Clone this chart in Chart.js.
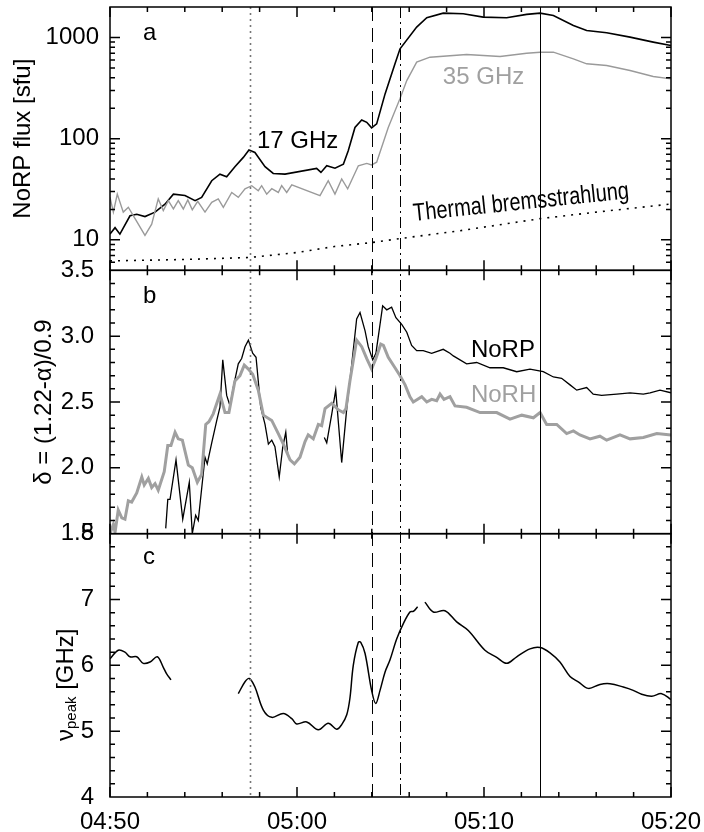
<!DOCTYPE html>
<html>
<head>
<meta charset="utf-8">
<script src="https://cdn.jsdelivr.net/npm/chart.js@4.4.1/dist/chart.umd.min.js"></script>
<style>
  html, body { margin: 0; padding: 0; background: #fff; }
  #wrap { width: 704px; height: 832px; }
</style>
</head>
<body>
<div id="wrap"><canvas id="chartCanvas" width="704" height="832"></canvas></div>
<script>
// times are minutes after 04:50 UT
const timeLabels = ['04:50', '05:00', '05:10', '05:20'];
const eventTimes = [7.5, 14.0, 15.5, 23.0];

// panel a: NoRP flux [sfu]
const t17 = [0, 0.27, 0.53, 1.07, 1.43, 1.87, 2.41, 2.94, 3.39, 4.01, 4.55, 4.9, 5.44, 5.88, 6.24, 6.68, 7.13, 7.43, 7.75, 8.29, 8.73, 9.36, 11.05, 11.28, 11.59, 12.03, 12.48, 12.74, 13.1, 13.46, 13.73, 13.99, 14.26, 14.71, 15.24, 15.51, 16.4, 16.94, 17.82, 18.89, 19.96, 21.21, 22.28, 23.0, 23.71, 24.78, 25.49, 26.56, 27.81, 29.05, 30];
const f17 = [11.4, 13.2, 11.4, 17.3, 17.9, 17.0, 18.8, 22.5, 28.3, 27.4, 24.4, 26.3, 38.4, 44.6, 42, 52.9, 65.3, 77.3, 73, 52.9, 45.3, 44.6, 50.9, 46.4, 54, 51, 56, 76, 129, 153, 145, 128, 140, 277, 550, 773, 1265, 1566, 1740, 1715, 1590, 1566, 1690, 1740, 1650, 1315, 1173, 1113, 1007, 900, 833];
const t35 = [0, 0.18, 0.39, 0.71, 0.98, 1.34, 1.87, 2.23, 2.58, 2.85, 3.12, 3.39, 3.65, 3.92, 4.16, 4.4, 4.69, 5.08, 5.44, 5.79, 6.06, 6.51, 6.86, 7.22, 7.58, 7.93, 8.11, 8.38, 8.65, 9.0, 9.18, 9.45, 9.72, 11.23, 11.67, 12.03, 12.39, 12.71, 13.28, 13.73, 13.99, 14.26, 14.88, 15.51, 15.87, 16.4, 17.11, 19.07, 20.86, 22.28, 23.0, 23.71, 24.78, 25.49, 26.56, 27.81, 29.05, 30];
const f35 = [26.3, 18.8, 28.3, 18.8, 21, 16.2, 11.1, 14.3, 25.4, 19.5, 24.4, 20.2, 24.4, 20.2, 24.8, 19.8, 24, 18.8, 23.5, 25.4, 21, 29.4, 26.3, 32, 34.3, 30.6, 34.3, 28.3, 32, 29.4, 34.3, 29.4, 35, 27.4, 38.4, 28.3, 40, 32, 54, 57, 55, 58.6, 129, 250, 375, 570, 638, 678, 648, 699, 715, 715, 615, 549, 528, 471, 411, 390];
const tThermal = [0, 4, 7.5, 10, 12, 14, 15.5, 18.7, 23, 26, 30];
const fThermal = [6.2, 6.4, 6.7, 7.5, 8.6, 9.4, 10.3, 12.3, 16.2, 18.8, 22.6];

// panel b: delta
const tNorp = [2.98, 3.09, 3.21, 3.53, 3.89, 4.24, 4.4, 4.58, 4.72, 5.08, 5.2, 5.44, 5.71, 5.88, 6.03, 6.24, 6.42, 6.59, 6.86, 7.04, 7.22, 7.4, 7.63, 7.81, 8.06, 8.29, 8.47, 8.65, 8.82, 9.05, 9.24, 9.4, 9.5, 10.5, 11.46, 11.59, 11.86, 12.07, 12.39, 12.66, 12.93, 13.19, 13.37, 13.64, 13.81, 14.05, 14.22, 14.44, 14.58, 14.8, 15.06, 15.29, 15.6, 15.87, 16.13, 16.4, 16.75, 17.2, 17.82, 18.18, 18.36, 19.07, 19.61, 20.32, 21.03, 21.75, 22.46, 23.17, 23.71, 24.15, 24.6, 24.96, 25.49, 25.84, 26.29, 27.1, 27.81, 28.52, 28.88, 29.41, 30];
const dNorp = [1.54, 1.76, 1.76, 2.06, 1.61, 1.89, 1.5, 1.64, 1.6, 2.08, 2.03, 2.19, 2.36, 2.46, 2.82, 2.55, 2.47, 2.61, 2.79, 2.83, 2.92, 2.97, 2.87, 2.84, 2.46, 2.33, 2.18, 2.21, 2.16, 1.93, 2.16, 2.27, 2.11, null, 2.23, 2.19, 2.41, 2.59, 2.04, 2.45, 2.79, 3.13, 3.18, 3.04, 2.92, 2.82, 2.87, 3.09, 3.23, 3.2, 3.22, 3.14, 3.09, 3.03, 2.93, 2.89, 2.89, 2.87, 2.9, 2.87, 2.85, 2.79, 2.8, 2.76, 2.76, 2.73, 2.75, 2.73, 2.69, 2.68, 2.63, 2.59, 2.61, 2.56, 2.55, 2.56, 2.57, 2.56, 2.57, 2.59, 2.57];
const tNorh = [0, 0.18, 0.27, 0.44, 0.63, 0.8, 0.98, 1.16, 1.43, 1.7, 1.83, 2.05, 2.23, 2.41, 2.58, 2.9, 3.09, 3.26, 3.48, 3.65, 3.87, 4.19, 4.4, 4.67, 4.9, 5.12, 5.29, 5.52, 5.88, 6.15, 6.36, 6.68, 6.95, 7.18, 7.4, 7.63, 7.93, 8.2, 8.65, 9.0, 9.27, 9.63, 9.86, 10.16, 10.43, 10.6, 10.87, 11.14, 11.32, 11.5, 11.86, 12.21, 12.48, 12.62, 12.83, 13.19, 13.46, 13.73, 13.99, 14.22, 14.48, 14.62, 14.88, 15.24, 15.51, 15.78, 16.04, 16.22, 16.67, 16.94, 17.2, 17.47, 17.65, 17.86, 18.18, 18.45, 19.07, 19.79, 20.68, 21.39, 22.02, 22.64, 23.0, 23.35, 23.89, 24.42, 24.78, 25.13, 25.67, 26.2, 26.56, 27.27, 27.81, 28.52, 29.24, 30];
const dNorh = [1.5, 1.57, 1.51, 1.68, 1.62, 1.61, 1.75, 1.74, 1.81, 1.93, 1.87, 1.92, 1.85, 1.88, 1.83, 1.97, 2.17, 2.17, 2.27, 2.22, 2.21, 2.02, 2.0, 1.89, 1.95, 2.33, 2.35, 2.41, 2.56, 2.42, 2.42, 2.66, 2.7, 2.78, 2.75, 2.71, 2.59, 2.4, 2.36, 2.26, 2.18, 2.06, 2.03, 2.08, 2.2, 2.25, 2.22, 2.33, 2.32, 2.45, 2.49, 2.44, 2.42, 2.45, 2.66, 2.97, 2.92, 2.83, 2.75, 2.83, 2.94, 2.93, 2.84, 2.76, 2.7, 2.63, 2.54, 2.5, 2.54, 2.5, 2.52, 2.51, 2.56, 2.52, 2.54, 2.47, 2.46, 2.42, 2.42, 2.37, 2.4, 2.38, 2.42, 2.33, 2.33, 2.26, 2.28, 2.25, 2.22, 2.24, 2.21, 2.25, 2.22, 2.23, 2.26, 2.25];

// panel c: peak frequency [GHz]
const tPeak = [0, 0.44, 0.8, 1.07, 1.43, 1.78, 2.14, 2.53, 2.85, 3.03, 3.26, 5, 6.86, 7.22, 7.45, 7.75, 8.2, 8.65, 9.27, 9.72, 9.98, 10.52, 11.14, 11.67, 12.12, 12.39, 12.66, 12.83, 13.01, 13.28, 13.41, 13.64, 13.99, 14.21, 14.44, 14.71, 14.97, 15.33, 15.68, 16.04, 16.22, 16.45, 16.6, 16.84, 17.29, 17.91, 18.54, 19.16, 20.05, 20.68, 21.21, 21.75, 22.46, 23.0, 23.53, 24.06, 24.6, 25.04, 25.58, 26.2, 26.74, 27.45, 27.98, 28.43, 28.97, 29.5, 30];
const fPeak = [6.1, 6.23, 6.2, 6.13, 6.13, 6.03, 6.05, 6.13, 5.97, 5.87, 5.78, null, 5.57, 5.75, 5.8, 5.67, 5.32, 5.21, 5.27, 5.19, 5.11, 5.14, 5.02, 5.12, 5.03, 5.1, 5.25, 5.5, 6.0, 6.35, 6.35, 6.18, 5.62, 5.42, 5.62, 5.9, 6.08, 6.4, 6.63, 6.81, 6.82, 6.89, null, 6.96, 6.81, 6.83, 6.66, 6.53, 6.23, 6.12, 6.03, 6.13, 6.25, 6.27, 6.19, 6.05, 5.83, 5.75, 5.65, 5.71, 5.72, 5.67, 5.62, 5.56, 5.53, 5.57, 5.48];

const FONT = '"Liberation Sans", Arial, Helvetica, sans-serif';
const pts = (t, v) => t.map((x, i) => ({ x: x, y: v[i] }));

const framePlugin = {
  id: 'frame',
  afterDatasetsDraw(chart) {
    const ctx = chart.ctx;
    const { left, right, top, bottom } = chart.chartArea;
    const x = chart.scales.x;
    const panels = [chart.scales.ya, chart.scales.yb, chart.scales.yc];
    ctx.save();

    // event lines
    const lineStyles = [
      { color: '#777', width: 1.6, dash: [2, 4] },
      { color: '#000', width: 1, dash: [14, 7] },
      { color: '#000', width: 1, dash: [11, 4, 2, 4] },
      { color: '#000', width: 1, dash: [] }
    ];
    eventTimes.forEach((t, i) => {
      const px = Math.round(x.getPixelForValue(t)) + 0.5;
      ctx.strokeStyle = lineStyles[i].color;
      ctx.lineWidth = lineStyles[i].width;
      ctx.setLineDash(lineStyles[i].dash);
      ctx.beginPath();
      ctx.moveTo(px, top);
      ctx.lineTo(px, bottom);
      ctx.stroke();
    });
    ctx.setLineDash([]);

    // frames and inward ticks
    ctx.strokeStyle = '#000';
    ctx.lineWidth = 1.5;
    panels.forEach((s) => {
      ctx.strokeRect(left, s.top, right - left, s.bottom - s.top);
      ctx.beginPath();
      for (let m = 0; m <= 30; m += 2) {
        const px = x.getPixelForValue(m);
        const len = m % 10 === 0 ? 10 : 5;
        ctx.moveTo(px, s.top); ctx.lineTo(px, s.top + len);
        ctx.moveTo(px, s.bottom); ctx.lineTo(px, s.bottom - len);
      }
      const yTick = (v, len) => {
        const py = s.getPixelForValue(v);
        ctx.moveTo(left, py); ctx.lineTo(left + len, py);
        ctx.moveTo(right, py); ctx.lineTo(right - len, py);
      };
      if (s.id === 'ya') {
        [1, 10, 100, 1000].forEach((d) => {
          for (let k = 1; k <= 9; k++) {
            const v = k * d;
            if (v > 5 && v < 2000) yTick(v, k === 1 ? 10 : 5);
          }
        });
      } else if (s.id === 'yb') {
        for (let i = 16; i < 35; i++) yTick(i / 10, i % 5 === 0 ? 10 : 5);
      } else {
        for (let i = 21; i < 40; i++) yTick(i / 5, i % 5 === 0 ? 10 : 5);
      }
      ctx.stroke();
    });

    // texts
    const ya = chart.scales.ya, yb = chart.scales.yb;
    ctx.fillStyle = '#000';
    ctx.font = '24px ' + FONT;
    ctx.textAlign = 'left';
    ctx.textBaseline = 'middle';
    ctx.fillText('a', left + 33, ya.top + 26);
    ctx.fillText('b', left + 33, yb.top + 26);
    ctx.fillText('c', left + 33, chart.scales.yc.top + 24);

    ctx.textBaseline = 'alphabetic';
    ctx.fillText('17 GHz', x.getPixelForValue(7.86), ya.getPixelForValue(80));
    ctx.fillText('NoRP', x.getPixelForValue(19.3), yb.getPixelForValue(2.84));
    ctx.fillStyle = '#a0a0a0';
    ctx.fillText('35 GHz', x.getPixelForValue(17.8), ya.getPixelForValue(350));
    ctx.fillText('NoRH', x.getPixelForValue(19.3), yb.getPixelForValue(2.5));

    ctx.fillStyle = '#000';
    ctx.save();
    ctx.translate(x.getPixelForValue(16.26), ya.getPixelForValue(15.4));
    ctx.rotate(-6 * Math.PI / 180);
    ctx.scale(0.8, 1);
    ctx.font = '25px ' + FONT;
    ctx.fillText('Thermal bremsstrahlung', 0, 0);
    ctx.restore();

    // axis titles
    ctx.font = '24px ' + FONT;
    ctx.textAlign = 'center';
    ctx.textBaseline = 'middle';
    const vTitle = (text, cx, cy) => {
      ctx.save();
      ctx.translate(cx, cy);
      ctx.rotate(-Math.PI / 2);
      ctx.fillText(text, 0, 0);
      ctx.restore();
    };
    vTitle('NoRP flux [sfu]', 23, (ya.top + ya.bottom) / 2);
    vTitle('δ = (1.22-α)/0.9', 44, (yb.top + yb.bottom) / 2);

    ctx.save();
    ctx.translate(66, chart.scales.yc.getPixelForValue(4.85));
    ctx.rotate(-Math.PI / 2);
    ctx.textAlign = 'left';
    ctx.font = '24px ' + FONT;
    ctx.fillText('ν', 0, 0);
    let w = ctx.measureText('ν').width;
    ctx.font = '15px ' + FONT;
    ctx.fillText('peak', w, 6);
    w += ctx.measureText('peak').width;
    ctx.font = '24px ' + FONT;
    ctx.fillText(' [GHz]', w, 0);
    ctx.restore();

    ctx.restore();
  }
};

const tickFont = { family: FONT, size: 24 };
const fixWidth = (s) => { s.width = 100; s.paddingTop = 0; s.paddingBottom = 0; };

const ctx = document.getElementById('chartCanvas').getContext('2d');
const chart = new Chart(ctx, {
  type: 'line',
  data: {
    datasets: [
      { data: pts(tThermal, fThermal), yAxisID: 'ya', borderColor: '#000', borderWidth: 1.6, borderDash: [2, 6] },
      { data: pts(t35, f35), yAxisID: 'ya', borderColor: '#9a9a9a', borderWidth: 1.4 },
      { data: pts(t17, f17), yAxisID: 'ya', borderColor: '#000', borderWidth: 1.6 },
      { data: pts(tNorh, dNorh), yAxisID: 'yb', borderColor: '#a0a0a0', borderWidth: 3 },
      { data: pts(tNorp, dNorp), yAxisID: 'yb', borderColor: '#000', borderWidth: 1.3 },
      { data: pts(tPeak, fPeak), yAxisID: 'yc', borderColor: '#000', borderWidth: 1.5, tension: 0.35 }
    ]
  },
  options: {
    responsive: false,
    animation: false,
    devicePixelRatio: 1,
    layout: { padding: { left: 10, right: 33, top: 7, bottom: 0 } },
    elements: { point: { radius: 0 }, line: { tension: 0, fill: false } },
    plugins: { legend: { display: false }, tooltip: { enabled: false } },
    scales: {
      x: {
        type: 'linear', min: 0, max: 30,
        grid: { display: false }, border: { display: false },
        afterFit: (s) => { s.height = 35; s.paddingLeft = 0; s.paddingRight = 0; },
        ticks: { stepSize: 10, padding: 3, maxRotation: 0, color: '#000', font: tickFont,
          callback: (v) => timeLabels[Math.round(v / 10)] }
      },
      yc: {
        type: 'linear', position: 'left', stack: 'p', stackWeight: 1, min: 4, max: 8,
        grid: { display: false }, border: { display: false }, afterFit: fixWidth,
        ticks: { stepSize: 1, padding: 8, color: '#000', font: tickFont }
      },
      yb: {
        type: 'linear', position: 'left', stack: 'p', stackWeight: 1, min: 1.5, max: 3.5,
        grid: { display: false }, border: { display: false }, afterFit: fixWidth,
        ticks: { stepSize: 0.5, padding: 8, color: '#000', font: tickFont,
          callback: (v) => v.toFixed(1) }
      },
      ya: {
        type: 'logarithmic', position: 'left', stack: 'p', stackWeight: 1, min: 5, max: 2000,
        grid: { display: false }, border: { display: false }, afterFit: fixWidth,
        afterBuildTicks: (s) => { s.ticks = [10, 100, 1000].map((v) => ({ value: v })); },
        ticks: { padding: 3, color: '#000', font: tickFont, autoSkip: false,
          callback: (v) => String(v) }
      }
    }
  },
  plugins: [framePlugin]
});
</script>
</body>
</html>
